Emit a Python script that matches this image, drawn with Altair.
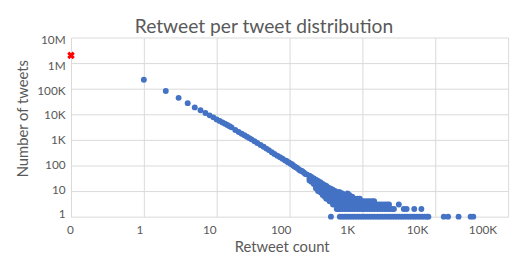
import altair as alt
import pandas as pd

# ---- data ----
# zero-retweet tweets (red marker, drawn at the "0" position of the log axis)
zero_count = 0
zero_tweets = 2000000

# main power-law band: retweet count -> number of tweets
band_counts = [1, 2, 3, 4, 5, 6, 7, 8, 9, 10, 11, 12, 13, 14, 15, 16, 18, 20, 22, 24,
               26, 28, 30, 33, 36, 40, 44, 48, 52, 57, 62, 68, 74, 80, 87, 95, 103,
               112, 122, 133, 145, 158, 172, 91, 99, 108, 117, 127, 139, 151, 165]
band_tweets = [222000, 81700, 43900, 27200, 18600, 14300, 11200, 9100, 7600, 6300,
               5500, 4800, 4270, 3800, 3390, 3090, 2450, 2040, 1740, 1510, 1320, 1175,
               1050, 890, 760, 630, 537, 457, 398, 331, 282, 240, 209, 182, 158, 135,
               117, 100, 85, 72, 62, 52, 45, 150, 128, 112, 92, 80, 64, 58, 46]

# widening part: each count with several observed tweet numbers
wedge_counts = [188, 200, 215, 230, 246, 265, 285, 305, 320, 336, 355, 375, 395, 420, 445, 470]
wedge_tweets = [
    [40, 32, 26],
    [36, 29, 23],
    [31, 25, 19],
    [28, 22, 17, 13],
    [25, 20, 15, 12, 10],
    [22, 18, 14, 11, 9],
    [19, 16, 12, 10, 8, 7],
    [17, 14, 11, 9, 7, 6],
    [16, 13, 10, 8, 7, 6, 5],
    [14, 12, 10, 8, 7, 6, 5],
    [13, 11, 9, 7, 6, 5, 4],
    [12, 10, 8, 7, 6, 5, 4],
    [11, 9, 8, 7, 6, 5, 4, 3],
    [10, 9, 8, 7, 6, 5, 4, 3],
    [9, 8, 7, 6, 5, 4, 3, 2],
    [9, 8, 7, 6, 5, 4, 3, 2],
]

# tail: retweet counts observed with exactly 1, 2, 3 ... tweets
tail_counts_1 = [370, 490, 530, 575, 620, 670, 725, 785, 850, 920, 995, 1075, 1165, 1260,
                 1365, 1475, 1600, 1730, 1870, 2025, 2190, 2370, 2565, 2775, 3000, 3250,
                 3515, 3800, 4115, 4450, 4815, 5210, 5640, 6100, 6600, 7140, 7700, 8050,
                 13100, 15000, 20900, 30600, 33300]
tail_counts_2 = [490, 530, 575, 620, 670, 725, 785, 850, 920, 995, 1075, 1165, 1260, 1365,
                 1475, 1600, 1730, 1870, 2025, 2190, 2370, 2565, 2710, 3700, 4050, 5150, 6450]
tail_counts_3 = [490, 530, 575, 620, 670, 725, 785, 850, 920, 995, 1075, 1165, 1260, 1365,
                 1475, 1600, 1730, 1870, 2025, 2190, 2320, 3160]
tail_counts_4 = [490, 530, 575, 620, 670, 725, 785, 850, 920, 995, 1075, 1165, 1260, 1365, 1450]
tail_counts_5 = [490, 530, 575, 620, 670, 725, 785, 850, 920]
tail_counts_6 = [490, 530, 575, 620, 670, 725]
tail_counts_7 = [490, 530, 575, 620, 660]
tail_counts_8 = [490, 530, 625]
tail_counts_9 = [490]

x_tick_values = [0.1, 1, 10, 100, 1000, 10000, 100000]
x_tick_labels = ["0", "1", "10", "100", "1K", "10K", "100K"]
y_tick_values = [1, 10, 100, 1000, 10000, 100000, 1000000, 10000000]
y_tick_labels = ["1", "10", "100", "1K", "10K", "100K", "1M", "10M"]

# label placement (style): the source spreads its labels slightly off the grid
x_label_shift = [-1, -4.5, -7.5, -9, -15.5, -18.5, -26]
y_label_shift = [-3, -2, -1.3, -0.7, 0.3, 1.6, 2.6, 2.6]

# ---- build tables ----
rows = list(zip(band_counts, band_tweets))
for c, ts in zip(wedge_counts, wedge_tweets):
    rows += [(c, t) for t in ts]
tails = [tail_counts_1, tail_counts_2, tail_counts_3, tail_counts_4, tail_counts_5,
         tail_counts_6, tail_counts_7, tail_counts_8, tail_counts_9]
for f, cs in enumerate(tails, start=1):
    rows += [(c, f) for c in cs]
df = pd.DataFrame(rows, columns=["count", "tweets"])
zdf = pd.DataFrame({"count": [zero_count], "tweets": [zero_tweets]})
for d in (df, zdf):
    d["x"] = d["count"].where(d["count"] > 0, x_tick_values[0])


def label_expr(values, labels):
    expr = f"'{labels[-1]}'"
    for v, l in reversed(list(zip(values[:-1], labels[:-1]))):
        expr = f"datum.value < {v * 2} ? '{l}' : ({expr})"
    return expr


def label_shift(values, shifts):
    conds = []
    for v, s in zip(values, shifts):
        conds.append({"test": f"datum.value > {v * 0.5} && datum.value < {v * 2}", "value": s})
    return {"condition": conds, "value": 0}


FONT = "Lato"
GRAY = "#595959"
GRID = "#D9D9D9"

x_enc = alt.X(
    "x:Q",
    scale=alt.Scale(type="log", domain=[x_tick_values[0], x_tick_values[-1]], nice=False),
    axis=alt.Axis(
        values=x_tick_values, labelExpr=label_expr(x_tick_values, x_tick_labels),
        grid=True, gridColor=GRID, domain=False, ticks=False, labelFlush=False,
        labelFont=FONT, labelFontSize=12, labelColor=GRAY, labelPadding=8,
        labelOffset=label_shift(x_tick_values, x_label_shift),
        title="Retweet count", titleFont=FONT, titleFontSize=15, titleColor=GRAY,
        titleFontWeight="normal", titleX=214, titleY=35, titleBaseline="alphabetic",
    ),
)
y_enc = alt.Y(
    "tweets:Q",
    scale=alt.Scale(type="log", domain=[y_tick_values[0], y_tick_values[-1]], nice=False),
    axis=alt.Axis(
        values=y_tick_values, labelExpr=label_expr(y_tick_values, y_tick_labels),
        grid=True, gridColor=GRID, domain=False, ticks=False,
        labelFont=FONT, labelFontSize=12, labelColor=GRAY, labelPadding=6,
        labelOffset=label_shift(y_tick_values, y_label_shift),
        title="Number of tweets", titleFont=FONT, titleFontSize=15, titleColor=GRAY,
        titleFontWeight="normal", titleX=-44, titleY=82, titleAngle=-90,
        titleBaseline="alphabetic", titleAlign="center",
    ),
)

blue = alt.Chart(df).mark_circle(size=36, color="#4472C4", opacity=1).encode(x=x_enc, y=y_enc)
red = alt.Chart(zdf).mark_point(shape="cross", angle=45, size=60, filled=True,
                                color="#FF0000", opacity=1).encode(x=x_enc, y=y_enc)

chart = (
    alt.layer(blue, red)
    .properties(
        width=444, height=182,
        title=alt.Title("Retweet per tweet distribution", font=FONT, fontSize=19.5,
                        fontWeight="normal", color=GRAY, anchor="middle", dx=-26, dy=7),
        autosize=alt.AutoSizeParams(type="none"),
        padding={"left": 64, "top": 28, "right": 6, "bottom": 39},
    )
    .configure_view(strokeWidth=0)
)

chart.save("out.html", embed_options={"renderer": "svg", "actions": False})
